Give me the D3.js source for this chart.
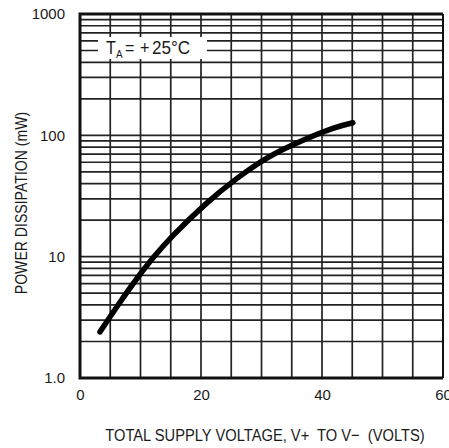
<!DOCTYPE html>
<html><head><meta charset="utf-8">
<script src="https://cdn.jsdelivr.net/npm/d3@7"></script>
<style>
body{margin:0;background:#fff;}
text{font-family:"Liberation Sans",Arial,sans-serif;fill:#1a1a1a;}
</style></head>
<body><svg id="c" width="449" height="448"></svg>
<script>
const voltage = [3.3, 6.3, 9.6, 12.4, 15.4, 20.9, 25.9, 30.9, 36.4, 41.8, 45.1];
const power   = [2.4, 4.0, 6.8, 10.2, 15.0, 27.5, 44, 65, 89, 114, 127];
const xTicks = [0, 20, 40, 60];
const yTicks = [1, 10, 100, 1000];
const yTickLabels = ["1.0", "10", "100", "1000"];
const xTitle = "TOTAL SUPPLY VOLTAGE, V+\u00A0 TO V\u2212\u00A0 (VOLTS)";
const yTitle = "POWER DISSIPATION (mW)";

const svg = d3.select("#c");
const L = 80, R = 443, T = 14, B = 378;
const x = d3.scaleLinear().domain([0, 60]).range([L, R]);
const y = d3.scaleLog().domain([1, 1000]).range([B, T]);

// grid
const g = svg.append("g");
g.selectAll("line.h").data(y.ticks()).enter().append("line")
  .attr("x1", L).attr("x2", R).attr("y1", d => y(d)).attr("y2", d => y(d))
  .attr("stroke", "#222").attr("stroke-width", 1.7);
g.selectAll("line.v").data(x.ticks(12)).enter().append("line")
  .attr("x1", d => x(d)).attr("x2", d => x(d)).attr("y1", T).attr("y2", B)
  .attr("stroke", "#222").attr("stroke-width", 1.7);

// frame
svg.append("path").attr("d", `M${R},${T}H${L}V${B}H${R}`)
  .attr("fill", "none").attr("stroke", "#111").attr("stroke-width", 3);
svg.append("line").attr("x1", R).attr("x2", R).attr("y1", T).attr("y2", B)
  .attr("stroke", "#111").attr("stroke-width", 2);

// annotation box
svg.append("rect").attr("x", 98).attr("y", 37).attr("width", 109).attr("height", 22).attr("fill", "#fff");
const ann = svg.append("g").attr("transform", "translate(0,54)");
const t1 = ann.append("g").attr("transform", "translate(106,0) scale(0.9,1)").append("text").attr("font-size", 18);
t1.append("tspan").text("T");
t1.append("tspan").attr("font-size", 11).attr("dy", 4).text("A");
ann.append("g").attr("transform", "translate(125,0) scale(0.9,1)").append("text").attr("font-size", 18).text("=");
ann.append("g").attr("transform", "translate(140,0) scale(0.9,1)").append("text").attr("font-size", 18).text("+");
ann.append("g").attr("transform", "translate(152,0) scale(0.9,1)").append("text").attr("font-size", 19).text("25\u00B0C");

// curve
const line = d3.line().x(d => x(d[0])).y(d => y(d[1])).curve(d3.curveNatural);
svg.append("path").datum(voltage.map((v, i) => [v, power[i]]))
  .attr("d", line).attr("fill", "none").attr("stroke", "#000")
  .attr("stroke-width", 5.5).attr("stroke-linecap", "round");

// axes labels
const xa = d3.axisBottom(x).tickValues(xTicks).tickSize(0).tickPadding(11).tickFormat(d3.format("d"));
svg.append("g").attr("transform", `translate(0,${B})`).call(xa)
  .call(s => s.select(".domain").remove())
  .selectAll("text").attr("font-size", 15).attr("font-family", "Liberation Sans, Arial, sans-serif").attr("fill", "#1a1a1a");
const ya = d3.axisLeft(y).tickValues(yTicks).tickSize(0).tickPadding(15)
  .tickFormat((d, i) => yTickLabels[i]);
svg.append("g").attr("transform", `translate(${L},0)`).call(ya)
  .call(s => s.select(".domain").remove())
  .selectAll("text").attr("font-size", 15).attr("font-family", "Liberation Sans, Arial, sans-serif").attr("fill", "#1a1a1a");

svg.append("g").attr("transform", "translate(265,441) scale(0.865,1)")
  .append("text").attr("text-anchor", "middle").attr("font-size", 17).text(xTitle);
svg.append("g").attr("transform", "translate(27,203) rotate(-90) scale(0.88,1)")
  .append("text").attr("text-anchor", "middle").attr("font-size", 16).text(yTitle);
</script></body></html>
